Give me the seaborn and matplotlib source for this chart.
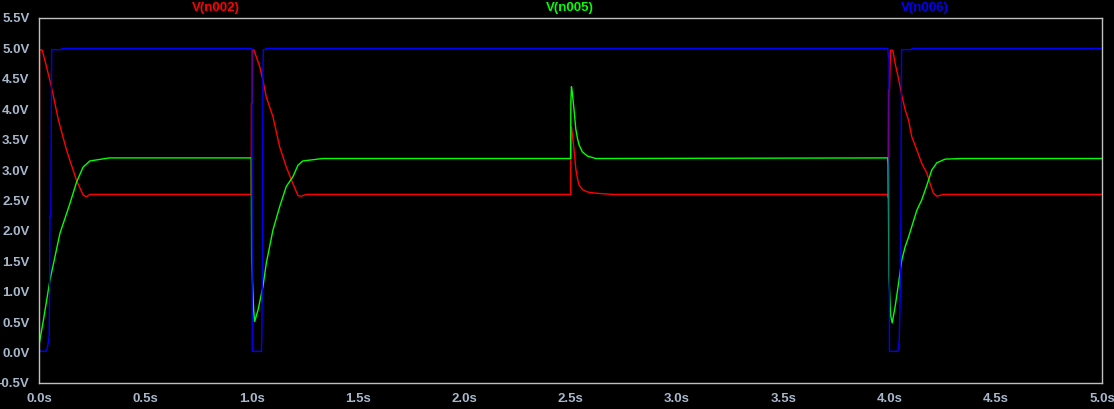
import numpy as np
import pandas as pd
import matplotlib
matplotlib.use("Agg")
import matplotlib.pyplot as plt
import seaborn as sns

# V(n002) - red trace, (time s, volts)
t_n002 = [0.0, 0.001, 0.014, 0.030, 0.055, 0.090, 0.128, 0.175, 0.206, 0.222, 0.238,
          0.9975, 0.998, 1.001, 1.002, 1.010, 1.021, 1.037, 1.052, 1.068, 1.099, 1.131,
          1.162, 1.193, 1.217, 1.232, 1.256,
          2.500, 2.501, 2.504, 2.516, 2.524, 2.532, 2.540, 2.555, 2.579, 2.618, 2.70,
          3.992, 3.994, 3.996, 4.000, 4.005, 4.016, 4.027, 4.043, 4.058, 4.074, 4.090,
          4.105, 4.129, 4.152, 4.176, 4.191, 4.207, 4.223, 4.254, 5.0]
v_n002 = [0.0, 4.98, 4.97, 4.75, 4.40, 3.82, 3.33, 2.83, 2.59, 2.56, 2.60,
          2.60, 4.10, 4.10, 4.97, 4.97, 4.86, 4.70, 4.48, 4.20, 3.88, 3.38,
          3.05, 2.78, 2.58, 2.57, 2.60,
          2.60, 3.71, 3.71, 3.33, 3.03, 2.86, 2.75, 2.68, 2.64, 2.62, 2.60,
          2.60, 2.55, 4.31, 4.31, 4.97, 4.97, 4.75, 4.50, 4.23, 3.99, 3.82,
          3.55, 3.33, 3.11, 2.95, 2.78, 2.62, 2.57, 2.60, 2.60]

# V(n005) - green trace
t_n005 = [0.0, 0.019, 0.050, 0.097, 0.144, 0.175, 0.206, 0.238, 0.330,
          0.9975, 0.999, 1.0085, 1.013, 1.029, 1.052, 1.068, 1.099, 1.131, 1.162,
          1.193, 1.217, 1.240, 1.334,
          2.500, 2.501, 2.5037, 2.507, 2.516, 2.524, 2.532, 2.540, 2.555, 2.579, 2.618,
          3.992, 3.994, 3.998, 4.005, 4.013, 4.027, 4.043, 4.058, 4.074, 4.090, 4.105,
          4.129, 4.152, 4.176, 4.199, 4.223, 4.262, 4.340, 5.0]
v_n005 = [0.15, 0.53, 1.19, 1.96, 2.45, 2.80, 3.05, 3.15, 3.20,
          3.20, 1.52, 0.70, 0.51, 0.70, 1.08, 1.47, 2.01, 2.40, 2.73,
          2.89, 3.08, 3.15, 3.19,
          3.19, 4.10, 4.37, 4.30, 3.99, 3.68, 3.52, 3.41, 3.30, 3.23, 3.19,
          3.20, 3.08, 1.25, 0.62, 0.49, 0.76, 1.14, 1.52, 1.74, 1.90, 2.07,
          2.34, 2.51, 2.75, 3.00, 3.12, 3.18, 3.19, 3.19]

# V(n006) - blue trace
t_n006 = [0.0, 0.005, 0.030, 0.038, 0.046, 0.048, 0.050, 0.054, 0.058, 0.105, 0.106,
          1.000, 1.002, 1.004, 1.045, 1.047, 1.050, 1.052, 1.054, 1.065, 1.066,
          3.992, 3.995, 3.998, 4.000, 4.040, 4.046, 4.050, 4.053, 4.057, 4.105, 4.106, 5.0]
v_n006 = [0.05, 0.02, 0.02, 0.08, 0.25, 0.80, 2.25, 2.25, 4.98, 4.98, 5.00,
          5.00, 0.02, 0.02, 0.02, 0.29, 1.60, 4.59, 4.98, 4.98, 5.00,
          5.00, 4.86, 4.86, 0.02, 0.02, 0.20, 0.81, 1.60, 4.98, 4.98, 5.00, 5.00]

x_ticks = np.arange(0.0, 5.01, 0.5)
y_ticks = np.arange(-0.5, 5.51, 0.5)

traces = [("V(n002)", t_n002, v_n002, "#ff0000"),
          ("V(n005)", t_n005, v_n005, "#00ff00"),
          ("V(n006)", t_n006, v_n006, "#0000ff")]

sns.set_style("dark")
plt.rcParams["font.family"] = ["Liberation Sans", "DejaVu Sans"]

fig = plt.figure(figsize=(11.14, 4.09), dpi=100, facecolor="black")
ax = fig.add_axes([0.0353, 0.0636, 0.9539, 0.8924])
ax.set_facecolor("black")

for name, t, v, col in traces:
    df = pd.DataFrame({"t": t, "v": v})
    sns.lineplot(data=df, x="t", y="v", ax=ax, color=col, linewidth=1,
                 estimator=None, sort=False)

ax.set_xlim(0, 5.0)
ax.set_ylim(-0.5, 5.5)
ax.set_xticks(x_ticks)
ax.set_xticklabels([f"{x:.1f}s" for x in x_ticks])
ax.set_yticks(y_ticks)
ax.set_yticklabels([f"{y:.1f}V" for y in y_ticks])
ax.set_xlabel("")
ax.set_ylabel("")
ax.grid(False)

lab_col = "#a8b8cc"
ax.tick_params(axis="both", colors="#c0c0c0", length=6, width=1, direction="out",
               labelcolor=lab_col, labelsize=9.5, pad=1)
for lbl in ax.get_xticklabels() + ax.get_yticklabels():
    lbl.set_fontweight("bold")
for sp in ax.spines.values():
    sp.set_color("#c0c0c0")
    sp.set_linewidth(1)
    sp.set_visible(True)

# trace names above the plot
for (name, t, v, col), xf in zip(traces, [0.1935, 0.5115, 0.8305]):
    fig.text(xf, 0.966, name, color=col, fontsize=9.5, fontweight="bold",
             ha="center", va="bottom")

fig.savefig("out.png", dpi=100, facecolor="black")
